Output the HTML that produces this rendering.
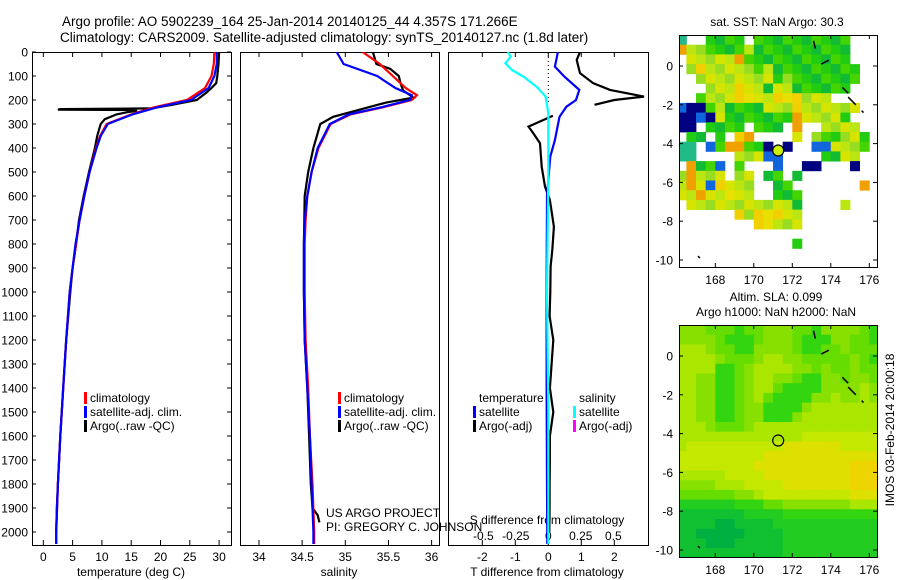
<!DOCTYPE html>
<html><head><meta charset="utf-8">
<style>
body{margin:0;background:#fff;}
svg{display:block;font-family:"Liberation Sans",sans-serif;}
text{fill:#000;}
</style></head>
<body>
<svg id="c" width="900" height="580" viewBox="0 0 900 580" xmlns="http://www.w3.org/2000/svg">
<text x="62" y="26" font-size="13.5">Argo profile: AO 5902239_164 25-Jan-2014 20140125_44 4.357S 171.266E</text>
<text x="60" y="42" font-size="13.5">Climatology: CARS2009. Satellite-adjusted climatology: synTS_20140127.nc (1.8d later)</text>
<g id="g"></g>
</svg>
<script>
// ---------- data ----------
const tempClimDepth=[0,50,100,150,200,230,260,300,350,400,500,600,700,800,900,1000,1200,1400,1600,1800,2000,2050];
const tempClim=[29.2,29.1,28.7,27.6,24.5,19,15,10.8,9.7,9.0,7.9,7.0,6.2,5.6,5.0,4.5,3.9,3.4,2.9,2.5,2.2,2.2];
const tempSat=[29.6,29.6,29.2,28.2,25.2,19.5,15.2,11.0,9.8,9.1,7.9,7.0,6.2,5.5,5.0,4.5,3.9,3.4,2.9,2.5,2.2,2.2];
const tempArgoDepth=[0,50,100,130,150,170,200,220,235,238,240,242,245,250,260,280,300,350,400,500,600,700,800,900,1000,1200,1400,1600,1800,1900,2000];
const tempArgo=[30,29.9,29.7,29.5,28.7,27.8,26.2,22,18.5,3,2.5,15,16,14.5,12.5,10.5,9.8,9.2,8.8,7.8,6.9,6.1,5.6,5.0,4.6,3.9,3.4,2.9,2.5,2.3,2.2];
const salDepth=[0,50,100,150,180,200,230,260,300,400,500,600,700,800,1000,1200,1400,1600,1800,2000,2050];
const salClim=[35.2,35.4,35.55,35.7,35.83,35.77,35.44,35.06,34.83,34.69,34.61,34.56,34.54,34.53,34.53,34.54,34.57,34.59,34.62,34.64,34.64];
const salSat=[34.9,34.98,35.37,35.58,35.77,35.75,35.42,35.04,34.82,34.68,34.61,34.56,34.53,34.52,34.52,34.53,34.56,34.59,34.61,34.63,34.63];
const salArgoDepth=[0,50,70,100,130,160,190,210,240,270,300,400,500,600,800,1000,1200,1400,1600,1800,1900,1930,1960];
const salArgo=[35.32,35.36,35.52,35.62,35.64,35.67,35.79,35.48,35.17,34.86,34.71,34.63,34.57,34.53,34.52,34.52,34.53,34.56,34.58,34.6,34.62,34.68,34.7];
const dTArgoDepthA=[0,33,88,130,158,186,200,220];
const dTArgoA=[0.96,0.86,0.96,1.36,1.87,2.9,2.0,1.4];
const dTArgoDepthB=[266,311,339,380,478,561,617,728,825,894,1000,1100,1200,1300,1400,1500,1600,1700,1800,1900,2000];
const dTArgoB=[0.14,-0.6,-0.45,-0.25,-0.2,-0.1,0.05,0.17,0.12,0.07,0.06,0.04,0.15,0.1,0.05,0.15,0.05,0.05,0.04,0.04,0.03];
const dTSatDepth=[0,61,103,158,200,228,270,367,436,600,1000,1400,1800,2050];
const dTSat=[0.29,0.2,0.49,0.94,0.84,0.55,0.34,0.2,0.06,-0.04,-0.05,-0.05,-0.04,-0.03];
const dSSatDepth=[0,20,47,75,103,145,186,255,500,1000,1500,2050];
const dSSat=[-0.31,-0.29,-0.33,-0.28,-0.19,-0.09,-0.02,0,0,-0.01,0,0];
const depthTicks=[0,100,200,300,400,500,600,700,800,900,1000,1100,1200,1300,1400,1500,1600,1700,1800,1900,2000];
const tempTicks=[0,5,10,15,20,25,30];
const salTicks=[34,34.5,35,35.5,36];
const dTTicks=[-2,-1,0,1,2];
const dSTicks=[-0.5,-0.25,0,0.25,0.5];
const dSTickLabels=["-0.5","-0.25","0","0.25","0.5"];
const lonTicks=[168,170,172,174,176];
const latTicks=[0,-2,-4,-6,-8,-10];
const sstRows=[
"c..gggg.gggggggggg..",
"oyyggggygggggggggg..",
".yyyyyoggggggggggg..",
".yYyyyyygyggggggggg.",
"..yyyyyyyygyggggggg.",
"...yyyYyygyygggggg..",
"..gyyyYYyyYYYyyy....",
"BbbgyggggyyyYyyyyyy.",
"bbBbygggggggoyyyyg..",
"bb.gggg.ggg.o..yyyy.",
".gg.g.Yo....y.yggyyg",
"cc.Bgooggb.b..BByyyg",
"cc....yyyBB....ggyy.",
".oggB.g...B..bb...b.",
"yoyyy.yy.gg.g.......",
"yoyBYyyy..gg.......o",
"yyoyyYyy..ggg.......",
".yyyyyyyyyyyg....y..",
"......YyYYYyy.......",
"........YYyyy.......",
"....................",
"............g.......",
"....................",
"...................."];
const slaRows=[
"555444344555443555543",
"555543334555433355443",
"666544335555433445444",
"666654445665544444543",
"666633456666554544544",
"665533456655433554554",
"665533456643333555565",
"665533456433335565565",
"665533455333356666666",
"665533455333566666666",
"666544456666666666666",
"666666666666677777777",
"677777777778888887777",
"777777777888888888888",
"777777778888888888999",
"666667777888888888999",
"555566677778888888999",
"444444556777777777888",
"222222333445555555666",
"111111122223333333333",
"111100111122222222222",
"110000011112222222222",
"111000111112222222222",
"111111111112222222222"];
const argoLon=171.266, argoLat=-4.357;

// ---------- drawing ----------
const NS="http://www.w3.org/2000/svg";
const G=document.getElementById('g');
function el(tag,attrs,parent){const e=document.createElementNS(NS,tag);for(const k in attrs)e.setAttribute(k,attrs[k]);(parent||G).appendChild(e);return e;}
function txt(x,y,s,size,anchor,parent){const t=el('text',{x:x,y:y,'font-size':size,'text-anchor':anchor||'start'},parent);t.textContent=s;return t;}
const dy=d=>52+d*0.24;
const xT=v=>43.3+v*5.86;
const xS=v=>259+(v-34)*86.3;
const xdT=v=>548.3+v*33;
const xdS=v=>548.3+v*130;
function line(depths,vals,fx,color,w,name,clipId){
  const p=el('polyline',{points:depths.map((d,i)=>fx(vals[i]).toFixed(1)+','+dy(d).toFixed(1)).join(' '),fill:'none',stroke:color,'stroke-width':w,'clip-path':'url(#'+clipId+')'});
  
  
}
const defs=el('defs',{});
function clip(id,x,y,w,h){const c=el('clipPath',{id:id},defs);el('rect',{x:x,y:y,width:w,height:h},c);}
clip('c1',32,52,199,493);clip('c2',240,52,199,493);clip('c3',448,52,200,493);
clip('m1',679,35,198,232);clip('m2',679,325,198,232);

const panels=[[32,'temperature-panel'],[240,'salinity-panel'],[448,'difference-panel']];
panels.forEach(([x,n],i)=>{
  const r=el('rect',{x:x+0.5,y:52.5,width:(i==2?200:199),height:493,fill:'none',stroke:'#000','stroke-width':1});
  
  
});
depthTicks.forEach(d=>{
  const y=dy(d);
  el('line',{x1:32,x2:36,y1:y,y2:y,stroke:'#000'});
  el('line',{x1:227,x2:231,y1:y,y2:y,stroke:'#000'});
  const t=txt(28,y+4.5,String(d),12,'end');
  
  
});
function xticks(ticks,fx,labels,ylab){
  ticks.forEach((v,i)=>{const x=fx(v);
    el('line',{x1:x,x2:x,y1:52,y2:57,stroke:'#000'});
    el('line',{x1:x,x2:x,y1:540,y2:545,stroke:'#000'});
    const t=txt(x,ylab,labels?labels[i]:String(v),12,'middle');
    
    
  });
}
xticks(tempTicks,xT,null,561);
xticks(salTicks,xS,null,561);
xticks(dTTicks,xdT,null,561);
dSTicks.forEach((v,i)=>{const t=txt(xdS(v),540,dSTickLabels[i],12,'middle');
  
  });
let t;
t=txt(131,576,'temperature (deg C)',12,'middle');
t=txt(339,576,'salinity',12,'middle');
t=txt(547,576,'T difference from climatology',12,'middle');
t=txt(547,524,'S difference from climatology',12,'middle');

el('line',{x1:548.3,x2:548.3,y1:53,y2:103,stroke:'#000','stroke-dasharray':'1,3'});

line(tempArgoDepth,tempArgo,xT,'#000',2.2,'temp-argo-line','c1');
line(tempClimDepth,tempClim,xT,'#f00',2.2,'temp-climatology-line','c1');
line(tempClimDepth,tempSat,xT,'#00f',2.2,'temp-satellite-line','c1');
line(salArgoDepth,salArgo,xS,'#000',2.2,'sal-argo-line','c2');
line(salDepth,salClim,xS,'#f00',2.2,'sal-climatology-line','c2');
line(salDepth,salSat,xS,'#00f',2.2,'sal-satellite-line','c2');
line(dTArgoDepthA,dTArgoA,xdT,'#000',2.2,'t-diff-argo-line-upper','c3');
line(dTArgoDepthB,dTArgoB,xdT,'#000',2.2,'t-diff-argo-line-lower','c3');
line(dTSatDepth,dTSat,xdT,'#00f',2.2,'t-diff-satellite-line','c3');
line(dSSatDepth,dSSat,xdS,'#0ff',2.2,'s-diff-satellite-line','c3');

function legend(x,y,items,name){
  items.forEach(([c,s],i)=>{
    if(c){el('rect',{x:x,y:y+i*14-10,width:3,height:12,fill:c});}
    const tt=txt(x+6,y+i*14,s,12);
    
    
  });
}
legend(84,402,[['#f00','climatology'],['#00f','satellite-adj. clim.'],['#000','Argo(..raw -QC)']],'temp-legend');
legend(338,402,[['#f00','climatology'],['#00f','satellite-adj. clim.'],['#000','Argo(..raw -QC)']],'sal-legend');
legend(473,402,[[null,'temperature'],['#00f','satellite'],['#000','Argo(-adj)']],'t-diff-legend');
legend(573,402,[[null,'salinity'],['#0ff','satellite'],['#f0f','Argo(-adj)']],'s-diff-legend');
t=txt(326,517,'US ARGO PROJECT',12);
t=txt(326,531,'PI: GREGORY C. JOHNSON',12);

const lonX=lon=>715.3+(lon-168)*19.25;
function drawMap(top,latY,rows,colorFn,cellDeg,lon0,lat0,clipId,name,frameY,frameH){
  const gg=el('g',{'clip-path':'url(#'+clipId+')'});
  
  
  rows.forEach((row,r)=>{
    for(let c=0;c<row.length;c++){
      const col=colorFn(row[c],r,c); if(!col)continue;
      const x0=lonX(lon0+c*cellDeg), x1=lonX(lon0+(c+1)*cellDeg);
      const y0=latY(lat0-r*cellDeg), y1=latY(lat0-(r+1)*cellDeg);
      const cell=el('rect',{x:x0.toFixed(1),y:y0.toFixed(1),width:(x1-x0+0.4).toFixed(1),height:(y1-y0+0.4).toFixed(1),fill:col},gg);
      
      
    }
  });
  const f=el('rect',{x:679.5,y:frameY+0.5,width:198,height:frameH,fill:'none',stroke:'#000'});
  
  
  lonTicks.forEach(l=>{const x=lonX(l);
    el('line',{x1:x,x2:x,y1:frameY,y2:frameY+4,stroke:'#000'});
    el('line',{x1:x,x2:x,y1:frameY+frameH-4,y2:frameY+frameH,stroke:'#000'});
    const tl=txt(x,frameY+frameH+17,String(l),12,'middle');
    
    
  });
  latTicks.forEach(l=>{const y=latY(l);
    el('line',{x1:679,x2:683,y1:y,y2:y,stroke:'#000'});
    el('line',{x1:873,x2:877,y1:y,y2:y,stroke:'#000'});
    const tl=txt(673,y+4.5,String(l),12,'end');
    
    
  });
}
const sstCol={g:['#22cc11','#11bb33','#44d400'],y:['#bbe611','#99dd22','#d6e400'],Y:['#f2d000','#e8e000'],o:['#f0a000'],b:['#000080'],B:['#1166dd'],c:['#22bb88']};
const latY1=lat=>66+(-lat)*19.4;
drawMap(35,latY1,sstRows,(ch,r,c)=>{const a=sstCol[ch];return a?a[(r*2+c)%a.length]:null;},0.5,166,1.6,'m1','sst-map',35,232);
const slaRamp=['#00b040','#10c030','#22cc20','#33d410','#66dd00','#88e000','#aae600','#c4e800','#dde000','#eed400'];
const latY2=lat=>356+(-lat)*19.4;
drawMap(325,latY2,slaRows,ch=>slaRamp[+ch],0.5,166,1.6,'m2','sla-map',325,232);
let m=el('circle',{cx:lonX(argoLon),cy:latY1(argoLat),r:5.5,fill:'#ccee00',stroke:'#000','stroke-width':1.2});

m=el('circle',{cx:lonX(argoLon),cy:latY2(argoLat),r:5.5,fill:'none',stroke:'#000','stroke-width':1.2});

[[173.1,1.3,173.2,0.9],[173.5,0.1,173.9,0.3],[174.6,-1.1,174.9,-1.4],[174.9,-1.6,175.3,-2.0],[175.6,-2.3,175.7,-2.4],[167.1,-9.8,167.2,-9.9]].forEach(s=>{
  [latY1,latY2].forEach(fy=>{el('line',{x1:lonX(s[0]),y1:fy(s[1]),x2:lonX(s[2]),y2:fy(s[3]),stroke:'#000','stroke-width':1.5});});
});
t=txt(777,26,'sat. SST: NaN Argo: 30.3',12,'middle');
t=txt(776,301,'Altim. SLA: 0.099',12,'middle');
t=txt(776,316,'Argo h1000: NaN h2000: NaN',12,'middle');
t=txt(0,0,'IMOS 03-Feb-2014 20:00:18',12,'middle');t.setAttribute('transform','translate(894,430) rotate(-90)');

</script>
</body></html>
